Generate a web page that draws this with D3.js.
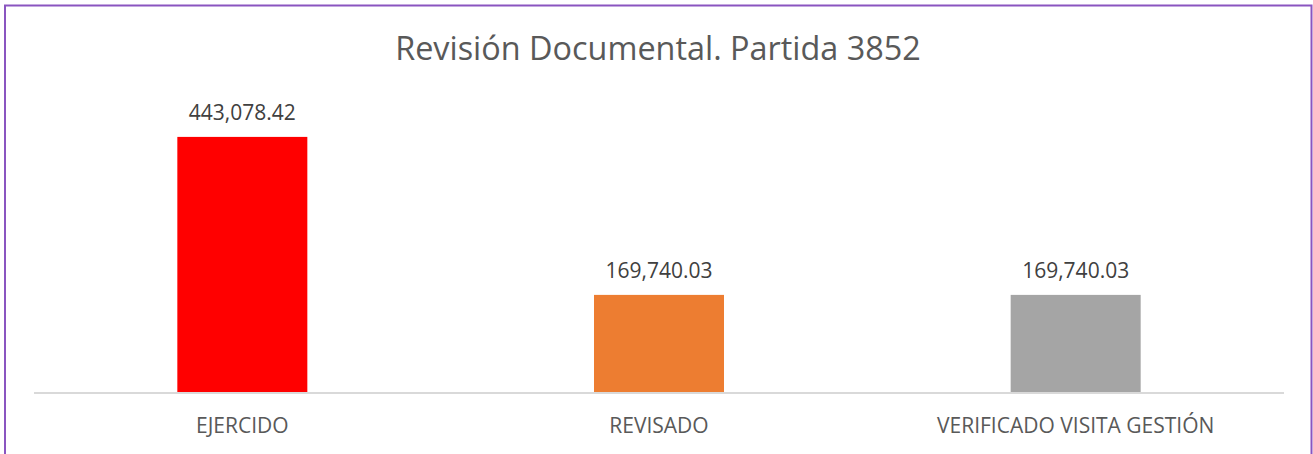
<!DOCTYPE html>
<html><head><meta charset="utf-8">
<script src="https://cdn.jsdelivr.net/npm/d3@7"></script>
<style>body{margin:0;background:#fff}svg{display:block}</style>
</head><body>
<svg id="c" width="1313" height="454"></svg>
<script>
const categories = ["EJERCIDO", "REVISADO", "VERIFICADO VISITA GESTIÓN"];
const values = [443078.42, 169740.03, 169740.03];
const colors = ["#FF0000", "#ED7D31", "#A5A5A5"];
const title = "Revisión Documental. Partida 3852";

const svg = d3.select("#c");
const font = "'Open Sans', sans-serif";

// border
svg.append("path").attr("d","M5,460V5.5H1311.5V460").attr("fill","none").attr("stroke","#8a55c0").attr("stroke-width",2);

const x = d3.scaleBand().domain(categories).range([34,1284]).paddingInner(0.688).paddingOuter(0.344);
const y = d3.scaleLinear().domain([0,500000]).range([393,104]);

svg.append("text").attr("x",658).attr("y",60).attr("text-anchor","middle")
  .attr("font-family",font).attr("font-size",32.4).attr("fill","#595959").text(title);

svg.selectAll("rect.bar").data(values).join("rect").attr("class","bar")
  .attr("x",(d,i)=>x(categories[i])).attr("width",x.bandwidth())
  .attr("y",d=>y(d)).attr("height",d=>y(0)-y(d)).attr("fill",(d,i)=>colors[i]);

const fmt = d3.format(",.2f");
svg.selectAll("text.val").data(values).join("text").attr("class","val")
  .attr("x",(d,i)=>x(categories[i])+x.bandwidth()/2).attr("y",d=>y(d)-17)
  .attr("text-anchor","middle").attr("font-family",font).attr("font-size",21).attr("fill","#404040")
  .text(d=>fmt(d));

const ax = svg.append("g").attr("transform","translate(0,393)")
  .call(d3.axisBottom(x).tickSize(0).tickPadding(0));
ax.select(".domain").attr("stroke","#d9d9d9").attr("stroke-width",2).attr("d","M34,0H1284");
ax.selectAll(".tick text").attr("font-family",font).attr("font-size",21).attr("fill","#595959")
  .attr("dy",null).attr("y",40);
</script>
</body></html>
